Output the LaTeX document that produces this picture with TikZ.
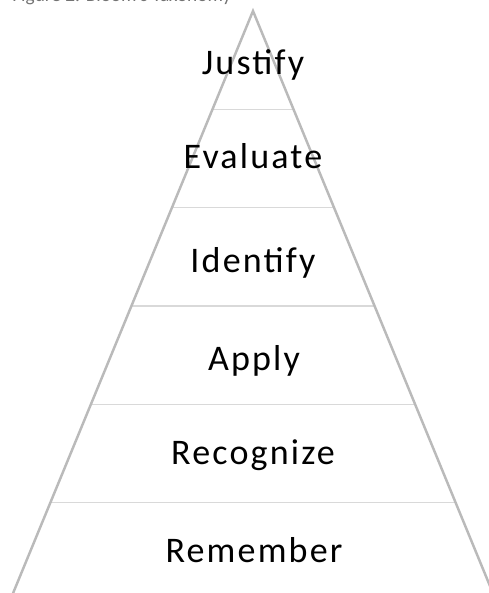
\documentclass[tikz,border=0pt]{standalone}
\usepackage{fontspec}
\setmainfont{Carlito}
\usetikzlibrary{positioning}
\tikzstyle{tier} = [font=\fontsize{20.5}{24}\selectfont\addfontfeatures{LetterSpace=6}, anchor=base, inner sep=0pt]
\tikzstyle{side} = [draw=black!27, line width=1.4pt]
\tikzstyle{divider} = [draw=black!15, line width=0.7pt]

\begin{document}
\begin{tikzpicture}[x=0.02cm, y=-0.02cm]
        \clip (0,0) rectangle (489,593);
        \node (caption) [anchor=base west, inner sep=0pt, text=black!55, font=\fontsize{11}{13}\selectfont] at (12,1.5) {Figure 2. Bloom's Taxonomy};

        \coordinate (apex) at (253,11);
        \coordinate (baseleft) at (9,603);
        \coordinate (baseright) at (497,603);
        \foreach \k in {1,...,5}
            \draw [divider] ({253-40.5*\k},{11+98.3*\k}) -- ({253+40.5*\k},{11+98.3*\k});
        \draw [side] (baseleft) -- (apex) -- (baseright);

        \node (justify) [tier] at (253,74) {Justify};
        \node (evaluate) [tier] at (253,168) {Evaluate};
        \node (identify) [tier] at (253,272) {Identify};
        \node (apply) [tier] at (254,370) {Apply};
        \node (recognize) [tier] at (253,464) {Recognize};
        \node (remember) [tier] at (254,562) {Remember};
    \end{tikzpicture}
\end{document}
